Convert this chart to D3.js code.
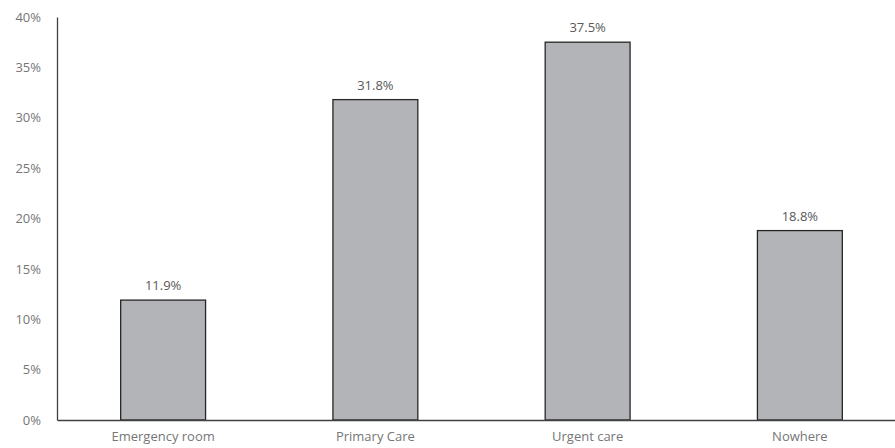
<!DOCTYPE html>
<html lang="en">
<head>
  <meta charset="UTF-8">
  <title>Care location</title>
  <script src="https://d3js.org/d3.v7.min.js"></script>
  <style>
    body { margin: 0; background: #fff; font-family: 'Open Sans', 'Liberation Sans', sans-serif; }
    svg { display: block; }
  </style>
</head>
<body>
  <div id="chart"></div>
  <script>
    const categories = ["Emergency room", "Primary Care", "Urgent care", "Nowhere"];
    const values = [11.9, 31.8, 37.5, 18.8];
    const yTicks = [0, 5, 10, 15, 20, 25, 30, 35, 40];

    const W = 895, H = 448;
    const margin = { top: 17, right: -11, bottom: 28, left: 57 };
    const width = W - margin.left - margin.right,
          height = H - margin.top - margin.bottom;

    const svg = d3.select("#chart")
      .append("svg")
      .attr("width", W)
      .attr("height", H)
      .append("g")
      .attr("transform", `translate(${margin.left},${margin.top})`);

    const x = d3.scaleBand()
      .domain(categories)
      .range([0, width])
      .paddingInner(0.6)
      .paddingOuter(0.3);

    const y = d3.scaleLinear()
      .domain([0, 40])
      .range([height, 0]);

    // y axis
    const yAxis = svg.append("g")
      .call(d3.axisLeft(y).tickValues(yTicks).tickSize(0).tickPadding(16).tickFormat(d => d + "%"));
    yAxis.select(".domain").attr("stroke", "#404040").attr("stroke-width", 1.3);
    yAxis.selectAll("text").attr("fill", "#767676").style("font-size", "13px")
      .style("font-family", "'Open Sans', sans-serif");

    // bars
    svg.selectAll("rect.bar")
      .data(categories)
      .enter()
      .append("rect")
      .attr("class", "bar")
      .attr("x", d => x(d))
      .attr("y", (d, i) => y(values[i]))
      .attr("width", x.bandwidth())
      .attr("height", (d, i) => height - y(values[i]))
      .attr("fill", "#b3b4b8")
      .attr("stroke", "#262626")
      .attr("stroke-width", 1.3);

    // value labels
    svg.selectAll("text.val")
      .data(categories)
      .enter()
      .append("text")
      .attr("class", "val")
      .attr("x", d => x(d) + x.bandwidth() / 2)
      .attr("y", (d, i) => y(values[i]) - 10)
      .attr("text-anchor", "middle")
      .attr("fill", "#595959")
      .style("font-size", "13px")
      .text((d, i) => values[i].toFixed(1) + "%");

    // x axis
    const xAxis = svg.append("g")
      .attr("transform", `translate(0,${height})`)
      .call(d3.axisBottom(x).tickSize(0).tickPadding(12));
    xAxis.select(".domain").attr("stroke", "#404040").attr("stroke-width", 1.3);
    xAxis.selectAll("text").attr("fill", "#767676").style("font-size", "13px")
      .style("font-family", "'Open Sans', sans-serif");
  </script>
</body>
</html>
